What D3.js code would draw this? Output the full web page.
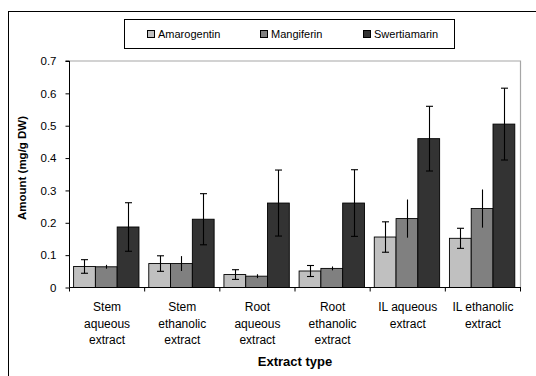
<!DOCTYPE html>
<html>
<head>
<meta charset="utf-8">
<script src="https://cdn.jsdelivr.net/npm/d3@7"></script>
<style>
  html, body { margin: 0; padding: 0; background: #fff; }
  svg { display: block; font-family: "Liberation Sans", Arial, sans-serif; }
</style>
</head>
<body>
<svg id="chart" width="536" height="376"></svg>
<script>
// Extract types (x categories), one label line per array entry
const categories = [
  ["Stem", "aqueous", "extract"],
  ["Stem", "ethanolic", "extract"],
  ["Root", "aqueous", "extract"],
  ["Root", "ethanolic", "extract"],
  ["IL aqueous", "extract"],
  ["IL ethanolic", "extract"]
];
const seriesNames = ["Amarogentin", "Mangiferin", "Swertiamarin"];

// Mean amounts (mg/g DW) per extract type
const amarogentin  = [0.065, 0.074, 0.040, 0.051, 0.156, 0.152];
const mangiferin   = [0.064, 0.074, 0.035, 0.059, 0.213, 0.244];
const swertiamarin = [0.187, 0.211, 0.261, 0.261, 0.460, 0.505];

// Standard deviations
const amarogentinErr  = [0.021, 0.024, 0.015, 0.017, 0.047, 0.031];
const mangiferinErr   = [0.006, 0.023, 0.006, 0.006, 0.059, 0.059];
const swertiamarinErr = [0.075, 0.079, 0.102, 0.103, 0.100, 0.111];

const yTicks = [0, 0.1, 0.2, 0.3, 0.4, 0.5, 0.6, 0.7];

const series = [
  { name: seriesNames[0], values: amarogentin,  errors: amarogentinErr,  fill: "#c0c0c0", cap: true },
  { name: seriesNames[1], values: mangiferin,   errors: mangiferinErr,   fill: "#808080", cap: false },
  { name: seriesNames[2], values: swertiamarin, errors: swertiamarinErr, fill: "#333333", cap: true }
];

const FONT = "'Liberation Sans', Arial, sans-serif";
const svg = d3.select("#chart");

// Chart frame
svg.append("line").attr("x1", 8).attr("y1", 11.5).attr("x2", 536).attr("y2", 11.5)
  .attr("stroke", "#000").attr("stroke-width", 1);
svg.append("line").attr("x1", 8.5).attr("y1", 11).attr("x2", 8.5).attr("y2", 376)
  .attr("stroke", "#000").attr("stroke-width", 1);

const plot = { left: 69.5, right: 520.5, top: 61, bottom: 287.5 };

const x = d3.scaleBand()
  .domain(d3.range(categories.length))
  .range([plot.left, plot.right])
  .paddingInner(0).paddingOuter(0);

const xInner = d3.scaleBand()
  .domain(d3.range(series.length))
  .range([0, x.bandwidth()])
  .paddingOuter(0.225).paddingInner(0);

const y = d3.scaleLinear().domain([0, 0.7]).range([plot.bottom, plot.top]);

// Plot area border (grey, top and right)
svg.append("path")
  .attr("d", `M${plot.left},${y(0.7)}H${plot.right}V${plot.bottom}`)
  .attr("fill", "none").attr("stroke", "#a6a6a6").attr("stroke-width", 1.2);

// Bars
const groups = svg.append("g").selectAll("g")
  .data(series).join("g");

groups.selectAll("rect")
  .data((s, si) => s.values.map((v, i) => ({ v, i, si, fill: s.fill })))
  .join("rect")
  .attr("x", d => x(d.i) + xInner(d.si) - 0.8)
  .attr("y", d => y(d.v))
  .attr("width", xInner.bandwidth())
  .attr("height", d => y(0) - y(d.v))
  .attr("fill", d => d.fill)
  .attr("stroke", "#000")
  .attr("stroke-width", 0.9);

// Error bars
const errG = svg.append("g").attr("stroke", "#000").attr("stroke-width", 1.1);
series.forEach((s, si) => {
  s.values.forEach((v, i) => {
    const cx = Math.round(x(i) + xInner(si) + xInner.bandwidth() / 2 - 0.8) + 0.5;
    const hi = y(v + s.errors[i]), lo = y(v - s.errors[i]);
    errG.append("line").attr("x1", cx).attr("x2", cx).attr("y1", hi).attr("y2", lo);
    if (s.cap) {
      errG.append("line").attr("x1", cx - 3.5).attr("x2", cx + 3.5).attr("y1", hi).attr("y2", hi);
      errG.append("line").attr("x1", cx - 3.5).attr("x2", cx + 3.5).attr("y1", lo).attr("y2", lo);
    }
  });
});

// Y axis
const yAxis = svg.append("g")
  .attr("transform", `translate(${plot.left},0)`)
  .call(d3.axisLeft(y).tickValues(yTicks).tickSize(4).tickPadding(9)
    .tickFormat(d => d === 0 ? "0" : d3.format(".1f")(d)));
yAxis.select(".domain").attr("stroke", "#000").attr("d", `M-4,${plot.top}H0V${plot.bottom}`);
yAxis.selectAll("text").attr("font-size", 11.5).attr("fill", "#000")
  .attr("font-family", FONT);

// X axis with ticks at category boundaries
const xAxisG = svg.append("g").attr("transform", `translate(0,${plot.bottom})`);
xAxisG.append("line").attr("x1", plot.left).attr("x2", plot.right + 0.5)
  .attr("y1", 0).attr("y2", 0).attr("stroke", "#000");
xAxisG.selectAll("line.tick")
  .data(d3.range(categories.length + 1))
  .join("line").attr("class", "tick")
  .attr("x1", i => i < categories.length ? x(i) : plot.right)
  .attr("x2", i => i < categories.length ? x(i) : plot.right)
  .attr("y1", 0).attr("y2", 4).attr("stroke", "#000");

const labels = xAxisG.selectAll("text.cat")
  .data(categories)
  .join("text").attr("class", "cat")
  .attr("text-anchor", "middle")
  .attr("font-size", 12)
  .attr("fill", "#000")
  .attr("transform", (d, i) => `translate(${x(i) + x.bandwidth() / 2},0)`);
labels.selectAll("tspan")
  .data(d => d)
  .join("tspan")
  .attr("x", 0)
  .attr("y", (d, j) => 23.5 + j * 16.7)
  .text(d => d);

// Axis titles
svg.append("text")
  .attr("x", 295).attr("y", 365.5)
  .attr("text-anchor", "middle").attr("font-size", 13).attr("font-weight", "bold")
  .text("Extract type");
svg.append("text")
  .attr("transform", `translate(26,168) rotate(-90)`)
  .attr("text-anchor", "middle").attr("font-size", 11.5).attr("font-weight", "bold")
  .text("Amount (mg/g DW)");

// Legend
const legend = svg.append("g");
legend.append("rect").attr("x", 124.5).attr("y", 19.5).attr("width", 330).attr("height", 29)
  .attr("fill", "#fff").attr("stroke", "#000").attr("stroke-width", 1);
const legendX = [147, 260, 363];
const items = legend.selectAll("g.item").data(series).join("g").attr("class", "item")
  .attr("transform", (d, i) => `translate(${legendX[i]},34)`);
items.append("rect").attr("x", 0.5).attr("y", -3.5).attr("width", 7).attr("height", 7)
  .attr("fill", d => d.fill).attr("stroke", "#000").attr("stroke-width", 1);
items.append("text").attr("x", 11).attr("y", 4).attr("font-size", 11).attr("fill", "#000")
  .text(d => d.name);
</script>
</body>
</html>
